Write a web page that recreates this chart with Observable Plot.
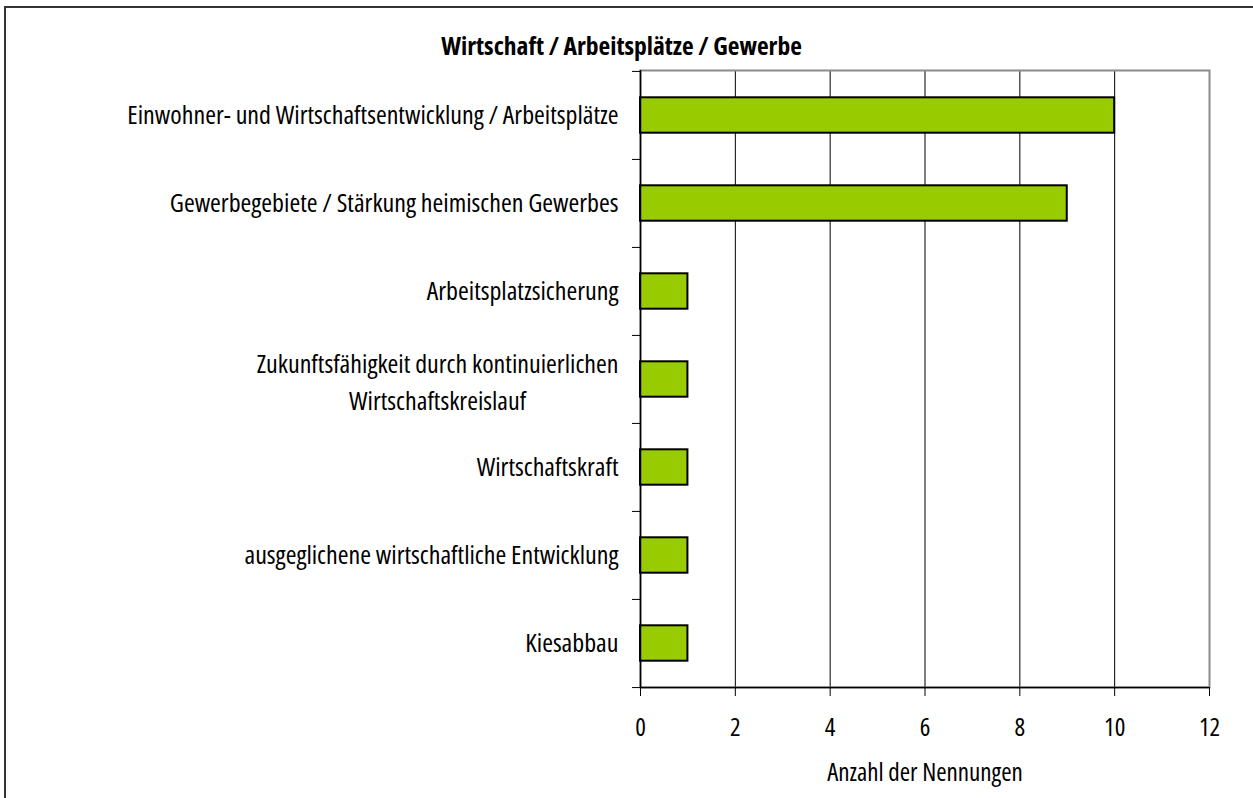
<!DOCTYPE html>
<html>
<head>
<meta charset="utf-8">
<script src="https://cdn.jsdelivr.net/npm/d3@7"></script>
<script src="https://cdn.jsdelivr.net/npm/@observablehq/plot@0.6"></script>
<style>
  html, body { margin: 0; padding: 0; background: #fff; overflow: hidden; width: 1253px; height: 798px; }
  #border { position: absolute; left: 4px; top: 6px; width: 1400px; height: 1000px; border: 2px solid #333; box-sizing: border-box; }
  #chart { position: absolute; left: 0; top: 0; }
  #chart svg text { font-stretch: 75%; }
  .measure { position: absolute; visibility: hidden; white-space: nowrap; font-family: 'Open Sans', sans-serif; font-stretch: 75%; }
</style>
</head>
<body>
<div id="border"></div>
<div id="chart"></div>
<script>
const title = "Wirtschaft / Arbeitsplätze / Gewerbe";
const xLabel = "Anzahl der Nennungen";
const categories = [
  "Einwohner- und Wirtschaftsentwicklung / Arbeitsplätze",
  "Gewerbegebiete / Stärkung heimischen Gewerbes",
  "Arbeitsplatzsicherung",
  "Zukunftsfähigkeit durch kontinuierlichen\nWirtschaftskreislauf",
  "Wirtschaftskraft",
  "ausgeglichene wirtschaftliche Entwicklung",
  "Kiesabbau"
];
const values = [10, 9, 1, 1, 1, 1, 1];
const xTicks = [0, 2, 4, 6, 8, 10, 12];

const data = categories.map((c, i) => ({category: c, value: values[i]}));

const W = 1253, H = 798;
const mL = 640, mR = 44, mT = 70, mB = 111;
const bw = (H - mT - mB) / categories.length;
const FONT = "'Open Sans', sans-serif";
const labelSize = 26;
const labelGap = 22;

// measure widths (condensed Open Sans) for centered multi-line labels
function lineW(s) {
  const span = document.createElement("span");
  span.className = "measure";
  span.style.fontSize = labelSize + "px";
  document.body.append(span);
  let w = 0;
  for (const l of s.split("\n")) { span.textContent = l; w = Math.max(w, span.getBoundingClientRect().width); }
  span.remove();
  return w;
}

const single = data.filter(d => !d.category.includes("\n"));
const multi = data.filter(d => d.category.includes("\n"));

const chart = Plot.plot({
  width: W, height: H,
  marginLeft: mL, marginRight: mR, marginTop: mT, marginBottom: mB,
  style: {fontFamily: FONT, fontSize: "25px", color: "#000", background: "transparent", overflow: "visible"},
  x: {domain: [0, 12], ticks: xTicks},
  y: {domain: categories, padding: 0, axis: null},
  marks: [
    Plot.gridX(xTicks, {stroke: "#000", strokeOpacity: 1, strokeWidth: 1}),
    Plot.frame({stroke: "#8a8a8a", strokeWidth: 2}),
    Plot.barX(data, {x: "value", y: "category", fill: "#99cc00", stroke: "#000", strokeWidth: 2, insetTop: 26.3, insetBottom: 26.3}),
    Plot.ruleX([0], {stroke: "#000", strokeWidth: 1.5}),
    Plot.ruleY([categories[categories.length - 1]], {dy: bw / 2, stroke: "#000", strokeWidth: 1.5}),
    Plot.axisY(categories, {anchor: "left", label: null, tickSize: 8, tickFormat: () => "", dy: -bw / 2, stroke: "#000", strokeWidth: 1}),
    Plot.axisY([categories[categories.length - 1]], {anchor: "left", label: null, tickSize: 8, tickFormat: () => "", dy: bw / 2, stroke: "#000", strokeWidth: 1}),
    Plot.axisX({ticks: xTicks, tickSize: 9, tickPadding: 22, label: null, stroke: "#000", fontSize: 25}),
    Plot.text(single, {y: "category", text: "category", frameAnchor: "left", dx: -labelGap, textAnchor: "end", fontSize: labelSize, fill: "#000"}),
    ...multi.map(d => Plot.text([d], {y: "category", text: "category", frameAnchor: "left", dx: -labelGap - lineW(d.category) / 2, textAnchor: "middle", lineHeight: 1.42, fontSize: labelSize, fill: "#000"})),
    Plot.text([title], {frameAnchor: "top-left", dx: 621 - mL, dy: -24, textAnchor: "middle", lineAnchor: "middle", fontWeight: "bold", fontSize: 25.5, fill: "#000"}),
    Plot.text([xLabel], {frameAnchor: "bottom", dy: 85, lineAnchor: "middle", fontSize: 25, fill: "#000"})
  ]
});
document.getElementById("chart").append(chart);
</script>
</body>
</html>
